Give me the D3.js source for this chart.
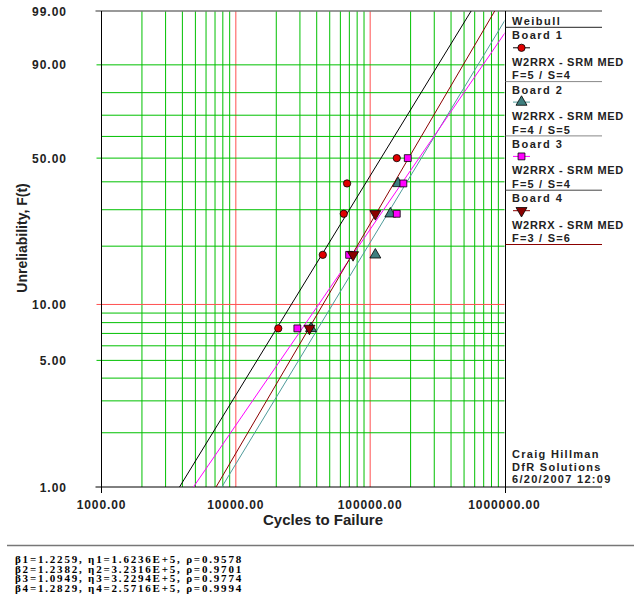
<html>
<head>
<style>
    body {margin:0; background:#fff}
    text {font-family:"Liberation Sans", Arial, sans-serif; font-weight:bold; fill:#222}
    .par {font-family:"Liberation Serif", "Times New Roman", serif; fill:#000}
</style>
<script src="https://d3js.org/d3.v7.min.js"></script>
</head>
<body>
<script>
    // data
    var boards = ["Board 1", "Board 2", "Board 3", "Board 4"];
    var board1Cycles = [20700, 44400, 63600, 67300, 157800];
    var board1Unrel  = [7.45, 18.09, 28.72, 39.36, 50.00];
    var board2Cycles = [36300, 109300, 141400, 161300];
    var board2Unrel  = [7.45, 18.09, 28.72, 39.36];
    var board3Cycles = [28700, 69700, 157800, 176700, 190500];
    var board3Unrel  = [7.45, 18.09, 28.72, 39.36, 50.00];
    var board4Cycles = [35300, 74600, 109300];
    var board4Unrel  = [7.45, 18.09, 28.72];

    // weibull fit parameters
    var betas = [1.2259, 1.2382, 1.0949, 1.2829];
    var etas  = [1.6236e5, 3.2316e5, 3.2294e5, 2.5716e5];
    var rhos  = [0.9578, 0.9701, 0.9774, 0.9994];
    var etaLabels = ["1.6236E+5", "3.2316E+5", "3.2294E+5", "2.5716E+5"];
    var fsLabels = ["F=5 / S=4", "F=4 / S=5", "F=5 / S=4", "F=3 / S=6"];

    var yGrid  = [1, 2, 3, 4, 5, 6, 7, 8, 9, 10, 20, 30, 40, 50, 60, 70, 80, 90, 99];
    var yMajor = [1, 5, 10, 50, 90, 99];
    var xMajor = [1000, 10000, 100000, 1000000];

    var width = 634, height = 607;
    var pLeft = 101.5, pRight = 504.5, pTop = 11, pBottom = 487;

    var lineColors   = ["#000000", "#4f9a9a", "#ff00ff", "#8b0000"];
    var markerFill   = ["#e00000", "#3f7f7f", "#ff00ff", "#8b0000"];
    var markerShape  = [d3.symbolCircle, d3.symbolTriangle, d3.symbolSquare, d3.symbolTriangle];
    var markerSize   = [42, 52, 47, 52];
    var markerRotate = [0, 0, 0, 180];

    var series = [
        {cycles: board1Cycles, unrel: board1Unrel},
        {cycles: board2Cycles, unrel: board2Unrel},
        {cycles: board3Cycles, unrel: board3Unrel},
        {cycles: board4Cycles, unrel: board4Unrel}
    ];

    //~~~~~~~~~~~~~~~~~~~~~~~~~~~~~~~~~~~~~~~~~~~~~
    // Scales: log x, weibull probability y
    //~~~~~~~~~~~~~~~~~~~~~~~~~~~~~~~~~~~~~~~~~~~~~
    var weib = p => Math.log(-Math.log(1 - p / 100));
    var x = d3.scaleLog().domain([1000, 1000000]).range([pLeft, pRight]);
    var yLin = d3.scaleLinear().domain([weib(1), weib(99)]).range([pBottom, pTop]);
    var y = p => yLin(weib(p));

    var svg = d3.select("body").append("svg")
        .attr("width", width)
        .attr("height", height);

    svg.append("defs").append("clipPath").attr("id", "plot")
        .append("rect")
        .attr("x", pLeft).attr("y", pTop)
        .attr("width", pRight - pLeft).attr("height", pBottom - pTop);

    // vertical grid
    svg.append("g")
        .selectAll("line")
        .data(x.ticks().filter(d => d > 1000 && d < 1000000))
        .join("line")
        .attr("x1", d => x(d)).attr("x2", d => x(d))
        .attr("y1", pTop).attr("y2", pBottom)
        .attr("stroke", d => (d == 10000 || d == 100000) ? "#ff5050" : "#00c000")
        .attr("stroke-width", 1);

    // horizontal grid
    svg.append("g")
        .selectAll("line")
        .data(yGrid.filter(d => d > 1 && d < 99))
        .join("line")
        .attr("x1", d => yMajor.includes(d) ? pLeft - 5 : pLeft)
        .attr("x2", pRight)
        .attr("y1", d => y(d)).attr("y2", d => y(d))
        .attr("stroke", d => d == 10 ? "#ff5050" : "#00c000")
        .attr("stroke-width", 1);

    // frame
    svg.append("line").attr("x1", pLeft - 6).attr("x2", 602)
        .attr("y1", pTop).attr("y2", pTop).attr("stroke", "#777").attr("stroke-width", 1.5);
    svg.append("line").attr("x1", pLeft - 6).attr("x2", 602)
        .attr("y1", pBottom).attr("y2", pBottom).attr("stroke", "#000");
    svg.append("line").attr("x1", pLeft).attr("x2", pLeft)
        .attr("y1", pTop).attr("y2", pBottom + 6).attr("stroke", "#000");
    svg.append("line").attr("x1", pRight + 1).attr("x2", pRight + 1)
        .attr("y1", pTop).attr("y2", pBottom + 6).attr("stroke", "#000");

    // tick labels
    svg.append("g")
        .selectAll("text")
        .data(yMajor)
        .join("text")
        .attr("x", 67).attr("y", d => y(d) + 4.5)
        .attr("text-anchor", "end")
        .style("font-size", "12px").style("letter-spacing", "1px")
        .text(d => d.toFixed(2));

    svg.append("g")
        .selectAll("text")
        .data(xMajor)
        .join("text")
        .attr("x", d => x(d)).attr("y", 509)
        .attr("text-anchor", "middle")
        .style("font-size", "12px").style("letter-spacing", "0.9px")
        .text(d => d.toFixed(2));

    svg.append("text")
        .attr("x", 323).attr("y", 525)
        .attr("text-anchor", "middle")
        .style("font-size", "15px")
        .text("Cycles to Failure");

    svg.append("text")
        .attr("transform", "translate(27,238) rotate(-90)")
        .attr("text-anchor", "middle")
        .style("font-size", "14px")
        .text("Unreliability, F(t)");

    // fit lines
    svg.append("g")
        .attr("clip-path", "url(#plot)")
        .selectAll("line")
        .data(boards)
        .join("line")
        .attr("x1", (d, i) => x(etas[i] * Math.exp(weib(0.5) / betas[i])))
        .attr("y1", y(0.5))
        .attr("x2", (d, i) => x(etas[i] * Math.exp(weib(99.9) / betas[i])))
        .attr("y2", y(99.9))
        .attr("stroke", (d, i) => lineColors[i])
        .attr("stroke-width", 1);

    // data points
    series.forEach(function(s, i) {
        svg.append("g")
            .selectAll("path")
            .data(s.cycles)
            .join("path")
            .attr("d", d3.symbol().type(markerShape[i]).size(markerSize[i]))
            .attr("transform", (d, j) => `translate(${x(d)},${y(s.unrel[j])}) rotate(${markerRotate[i]})`)
            .attr("fill", markerFill[i])
            .attr("stroke", "#000")
            .attr("stroke-width", 0.8);
    });

    //~~~~~~~~~~~~~~~~~~~~~~~~~~~~~~~~~~~~~~~~~~~~~
    // Legend
    //~~~~~~~~~~~~~~~~~~~~~~~~~~~~~~~~~~~~~~~~~~~~~
    var lx = 512, blockTop = 27.3, blockH = 54.3;
    var sepColors = ["#888", "#888", "#444", "#8b0000"];

    svg.append("text").attr("x", lx).attr("y", 25)
        .style("font-size", "11px").style("letter-spacing", "1.5px").text("Weibull");
    svg.append("line").attr("x1", pRight + 1).attr("x2", 602)
        .attr("y1", blockTop).attr("y2", blockTop).attr("stroke", "#222");

    var legend = svg.append("g")
        .selectAll("g")
        .data(boards)
        .join("g")
        .attr("transform", (d, i) => `translate(0,${blockTop + i * blockH})`);

    legend.append("text").attr("x", lx).attr("y", 12)
        .style("font-size", "11px").style("letter-spacing", "1.5px").text(d => d);
    legend.append("line").attr("x1", lx + 1).attr("x2", lx + 18)
        .attr("y1", 20.5).attr("y2", 20.5)
        .attr("stroke", (d, i) => lineColors[i]);
    legend.append("path")
        .attr("d", (d, i) => d3.symbol().type(markerShape[i]).size(markerSize[i])())
        .attr("transform", (d, i) => `translate(${lx + 9.5},20.5) rotate(${markerRotate[i]})`)
        .attr("fill", (d, i) => markerFill[i])
        .attr("stroke", "#000").attr("stroke-width", 0.8);
    legend.append("text").attr("x", lx).attr("y", 38.5)
        .style("font-size", "11px").style("letter-spacing", "0.7px").text("W2RRX - SRM MED");
    legend.append("text").attr("x", lx).attr("y", 52)
        .style("font-size", "11px").style("letter-spacing", "1.2px").text((d, i) => fsLabels[i]);
    legend.append("line").attr("x1", pRight + 1).attr("x2", 602)
        .attr("y1", blockH).attr("y2", blockH)
        .attr("stroke", (d, i) => sepColors[i]);

    var stamp = ["Craig Hillman", "DfR Solutions", "6/20/2007 12:09"];
    svg.append("g")
        .selectAll("text")
        .data(stamp)
        .join("text")
        .attr("x", lx).attr("y", (d, i) => 458 + i * 12.5)
        .style("font-size", "11px").style("letter-spacing", "1.3px")
        .text(d => d);

    //~~~~~~~~~~~~~~~~~~~~~~~~~~~~~~~~~~~~~~~~~~~~~
    // Parameter block
    //~~~~~~~~~~~~~~~~~~~~~~~~~~~~~~~~~~~~~~~~~~~~~
    svg.append("line").attr("x1", 7).attr("x2", width)
        .attr("y1", 545.5).attr("y2", 545.5).attr("stroke", "#777").attr("stroke-width", 1.5);

    svg.append("g")
        .selectAll("text")
        .data(boards)
        .join("text")
        .attr("class", "par")
        .attr("x", 15).attr("y", (d, i) => 563 + i * 9.6)
        .style("font-size", "11px").style("letter-spacing", "1.8px")
        .text((d, i) => `β${i + 1}=${betas[i].toFixed(4)}, η${i + 1}=${etaLabels[i]}, ρ=${rhos[i].toFixed(4)}`);
</script>
</body>
</html>
